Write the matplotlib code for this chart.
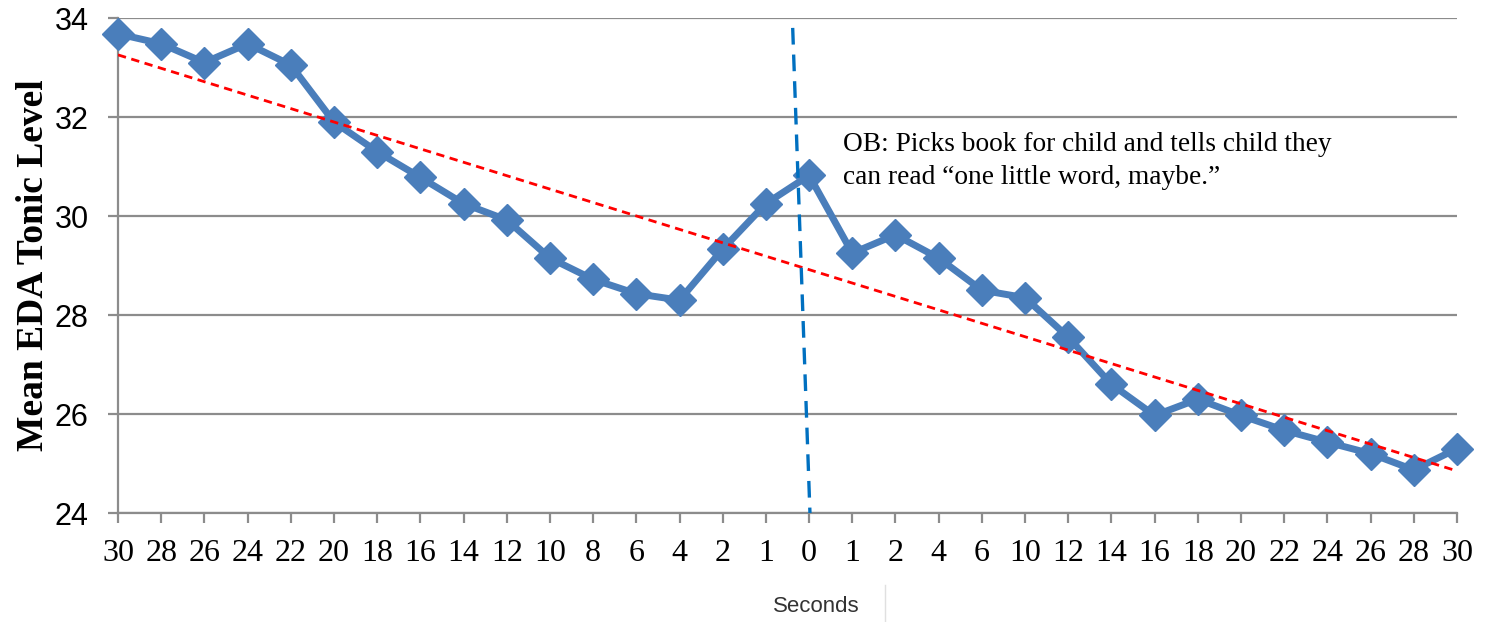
import numpy as np
import matplotlib
matplotlib.use("Agg")
import matplotlib.pyplot as plt
from matplotlib.lines import Line2D

# seconds before / after the event, as printed under each point
tick_labels = ["30", "28", "26", "24", "22", "20", "18", "16", "14", "12", "10",
               "8", "6", "4", "2", "1", "0", "1", "2", "4", "6", "10", "12",
               "14", "16", "18", "20", "22", "24", "26", "28", "30"]

eda_mean = [33.68, 33.48, 33.10, 33.48, 33.05, 31.90, 31.30, 30.78, 30.25,
            29.92, 29.15, 28.72, 28.43, 28.30, 29.33, 30.25, 30.82, 29.25,
            29.62, 29.15, 28.50, 28.35, 27.55, 26.60, 25.97, 26.30, 25.97,
            25.67, 25.43, 25.20, 24.87, 25.30]

# hand-drawn event marker (slightly slanted dashed line)
event_x = [15.62, 16.02]
event_y = [33.8, 24.0]

note = "OB: Picks book for child and tells child they\ncan read \u201cone little word, maybe.\u201d"

serif = ["Liberation Serif", "DejaVu Serif"]
sans = ["Liberation Sans", "DejaVu Sans"]

fig = plt.figure(figsize=(14.85, 6.22), dpi=100)
ax = fig.add_axes([118 / 1485, 1 - 513 / 622, (1457 - 118) / 1485, (513 - 18) / 622])

x = np.arange(len(eda_mean))
grey = "#8c8c8c"

ax.set_xlim(0, len(eda_mean) - 1)
ax.set_ylim(24, 34)
ax.set_yticks([24, 26, 28, 30, 32, 34])
ax.yaxis.grid(True, color=grey, linewidth=1.6)
ax.set_axisbelow(True)
for side in ["top", "right"]:
    ax.spines[side].set_visible(False)
for side in ["left", "bottom"]:
    ax.spines[side].set_color(grey)
    ax.spines[side].set_linewidth(1.6)
ax.tick_params(axis="both", color=grey, width=1.6, length=7)
ax.tick_params(axis="x", pad=12)
ax.tick_params(axis="y", pad=14)

ax.set_xticks(x)
ax.set_xticklabels(tick_labels, fontfamily=serif, fontsize=23)
for lbl in ax.get_yticklabels():
    lbl.set_fontfamily(sans)
    lbl.set_fontsize(22)

# linear trend over the whole window
slope, intercept = np.polyfit(x, eda_mean, 1)
ax.plot(x, slope * x + intercept, color="#ff0000", linewidth=2,
        linestyle=(0, (3, 2)), zorder=4)

ax.plot(x, eda_mean, color="#4a7ebb", linewidth=5, marker="D",
        markersize=16, zorder=3, clip_on=False)

ax.plot(event_x, event_y, color="#0070c0", linewidth=2.4,
        linestyle=(0, (5, 3)), zorder=5, clip_on=False)

ax.text(16.78, 31.11, note, fontfamily=serif, fontsize=19.7, linespacing=1.45,
        va="center", ha="left")

ax.set_ylabel("Mean EDA Tonic Level", fontfamily=serif, fontsize=27,
              fontweight="bold")
ax.yaxis.set_label_coords(-0.05, 0.5)

fig.text(816 / 1485, 1 - 606 / 622, "Seconds", fontfamily=sans, fontsize=16,
         color="#333333", ha="center", va="center")
fig.add_artist(Line2D([885 / 1485, 885 / 1485], [0, 1 - 585 / 622],
                      color="#e0e0e0", linewidth=1))

fig.savefig("out.png", dpi=100)
